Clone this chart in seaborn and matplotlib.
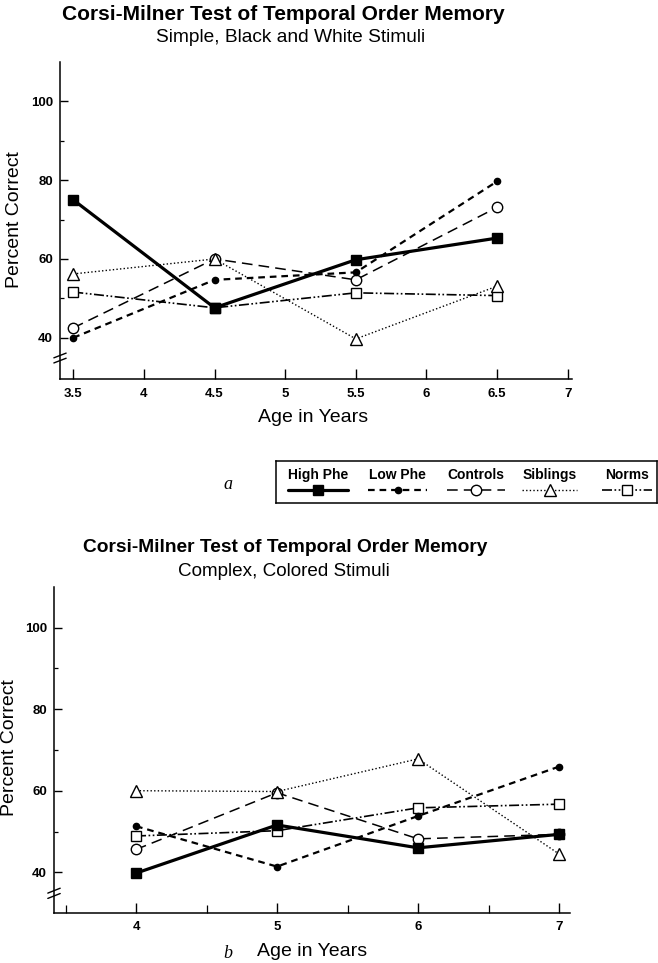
import numpy as np
import pandas as pd
import matplotlib
matplotlib.use("Agg")
import matplotlib.pyplot as plt
from matplotlib.ticker import FixedLocator
import matplotlib.transforms as mtransforms
import seaborn as sns

# ---------------- data ----------------
groups = ["High Phe", "Low Phe", "Controls", "Siblings", "Norms"]

ages_a = [3.5, 4.5, 5.5, 6.5]
high_a = [75.0, 47.6, 59.8, 65.3]
low_a = [40.0, 54.7, 56.6, 79.7]
ctrl_a = [42.5, 60.0, 54.7, 73.1]
sib_a = [56.2, 60.0, 39.7, 53.1]
norm_a = [51.6, 47.6, 51.4, 50.7]

ages_b = [4, 5, 6, 7]
high_b = [39.8, 51.6, 46.0, 49.3]
low_b = [51.3, 41.4, 53.8, 65.9]
ctrl_b = [45.6, 59.5, 48.2, 49.3]
sib_b = [60.0, 59.8, 67.8, 44.5]
norm_b = [48.9, 50.2, 55.8, 56.7]

xticks_a = [3.5, 4, 4.5, 5, 5.5, 6, 6.5, 7]
xticklabels_a = ["3.5", "4", "4.5", "5", "5.5", "6", "6.5", "7"]
xticks_b = [4, 5, 6, 7]
xticklabels_b = ["4", "5", "6", "7"]
yticks = [40, 60, 80, 100]

def long_frame(ages, series):
    rows = []
    for g, vals in zip(groups, series):
        for a, v in zip(ages, vals):
            rows.append({"age": a, "pct": v, "group": g})
    return pd.DataFrame(rows)

df_a = long_frame(ages_a, [high_a, low_a, ctrl_a, sib_a, norm_a])
df_b = long_frame(ages_b, [high_b, low_b, ctrl_b, sib_b, norm_b])

# ---------------- styles ----------------
styles = {
    "High Phe": dict(linestyle="-", lw=2.3, marker="s", markersize=7,
                     markerfacecolor="black", zorder=6),
    "Low Phe": dict(linestyle=(0, (3, 2.2)), lw=1.6, marker="o", markersize=4.5,
                    markerfacecolor="black", zorder=5),
    "Controls": dict(linestyle=(0, (7, 4)), lw=1.1, marker="o", markersize=7.5,
                     markerfacecolor="white", zorder=3),
    "Siblings": dict(linestyle=(0, (1, 1.6)), lw=1.0, marker="^", markersize=8.5,
                     markerfacecolor="white", zorder=4),
    "Norms": dict(linestyle=(0, (6, 1.5, 1, 1.5, 1, 1.5)), lw=1.2, marker="s",
                  markersize=7, markerfacecolor="white", zorder=2),
}

sns.set_style("ticks")
plt.rcParams["font.family"] = ["Liberation Sans", "DejaVu Sans"]
plt.rcParams["text.color"] = "black"
plt.rcParams["axes.labelcolor"] = "black"
plt.rcParams["xtick.color"] = "black"
plt.rcParams["ytick.color"] = "black"

W, H = 658, 963
fig = plt.figure(figsize=(W / 100, H / 100), dpi=100)

def px_rect(x0, y0, x1, y1):
    return [x0 / W, 1 - y1 / H, (x1 - x0) / W, (y1 - y0) / H]

def ftext(x, y, s, **kw):
    fig.text(x / W, 1 - y / H, s, ha="center", va="center", color="black", **kw)

def draw_panel(ax, df, xlim, ylim, xticks, xticklabels, minor_x, brk):
    for g in groups:
        sub = df[df["group"] == g]
        st = dict(styles[g])
        z = st.pop("zorder")
        sns.lineplot(data=sub, x="age", y="pct", ax=ax, color="black",
                     markeredgecolor="black", markeredgewidth=1.0,
                     legend=False, zorder=z, **st)
    ax.set_xlim(*xlim)
    ax.set_ylim(*ylim)
    ax.set_xlabel("")
    ax.set_ylabel("")
    sns.despine(ax=ax)
    for s in ("left", "bottom"):
        ax.spines[s].set_linewidth(1.1)
        ax.spines[s].set_color("black")
    ax.set_xticks(xticks)
    ax.set_xticklabels(xticklabels)
    if minor_x:
        ax.xaxis.set_minor_locator(FixedLocator(minor_x))
    ax.set_yticks(yticks)
    ax.set_yticklabels([str(v) for v in yticks])
    ax.yaxis.set_minor_locator(FixedLocator([50, 70, 90]))
    ax.tick_params(axis="both", which="major", direction="in", length=6,
                   width=1.0, colors="black", labelsize=9.5, pad=5)
    ax.tick_params(axis="both", which="minor", direction="in", length=3,
                   width=0.9, colors="black")
    ax.tick_params(axis="x", which="major", length=7, pad=6)
    ax.tick_params(axis="x", which="minor", length=6)
    for lab in ax.get_xticklabels() + ax.get_yticklabels():
        lab.set_fontweight("bold")
    # axis break marks on the y spine
    tr = mtransforms.blended_transform_factory(ax.transAxes, ax.transData)
    for dy in (0.0, 1.3):
        ax.plot([-0.012, 0.012], [brk - 0.6 + dy, brk + 0.6 + dy],
                transform=tr, color="black", lw=1.0, clip_on=False)

# ---------------- top panel ----------------
ax1 = fig.add_axes(px_rect(60, 62, 572, 379.5))
draw_panel(ax1, df_a, (3.406, 7.03), (29.4, 110), xticks_a, xticklabels_a,
           None, 34.2)

# ---------------- bottom panel ----------------
ax2 = fig.add_axes(px_rect(54, 586.7, 570, 912.7))
draw_panel(ax2, df_b, (3.418, 7.078), (30.1, 110), xticks_b, xticklabels_b,
           [3.5, 4.5, 5.5, 6.5], 34.2)

# ---------------- titles and labels ----------------
ftext(283, 15, "Corsi-Milner Test of Temporal Order Memory", fontsize=15,
      fontweight="bold")
ftext(291, 38, "Simple, Black and White Stimuli", fontsize=13.8)
ftext(285, 547, "Corsi-Milner Test of Temporal Order Memory", fontsize=13.8,
      fontweight="bold")
ftext(284, 572, "Complex, Colored Stimuli", fontsize=13.6)
ftext(15, 220, "Percent Correct", fontsize=14, rotation=90)
ftext(10, 748, "Percent Correct", fontsize=14, rotation=90)
ftext(313, 417, "Age in Years", fontsize=14)
ftext(312, 951, "Age in Years", fontsize=14)
ftext(228, 484, "a", fontsize=13, style="italic",
      family=["Liberation Serif", "DejaVu Serif"])
ftext(228, 953, "b", fontsize=13, style="italic",
      family=["Liberation Serif", "DejaVu Serif"])

# ---------------- legend ----------------
lax = fig.add_axes(px_rect(276, 461, 657, 503))
lax.set_xlim(276, 657)
lax.set_ylim(503, 461)
lax.set_xticks([])
lax.set_yticks([])
for s in lax.spines.values():
    s.set_visible(True)
    s.set_linewidth(1.1)
    s.set_color("black")
leg_spans = {"High Phe": (288, 348), "Low Phe": (368, 427),
             "Controls": (447, 505), "Siblings": (522, 577),
             "Norms": (602, 652)}
for g in groups:
    x0, x1 = leg_spans[g]
    cx = (x0 + x1) / 2
    lax.text(cx, 475, g, ha="center", va="center", fontsize=10,
             fontweight="bold", color="black")
    st = dict(styles[g])
    st.pop("zorder")
    lax.plot([x0, cx, x1], [490, 490, 490], color="black",
             markeredgecolor="black", markeredgewidth=1.0, markevery=[1], **st)

fig.savefig("out.png", dpi=100)
